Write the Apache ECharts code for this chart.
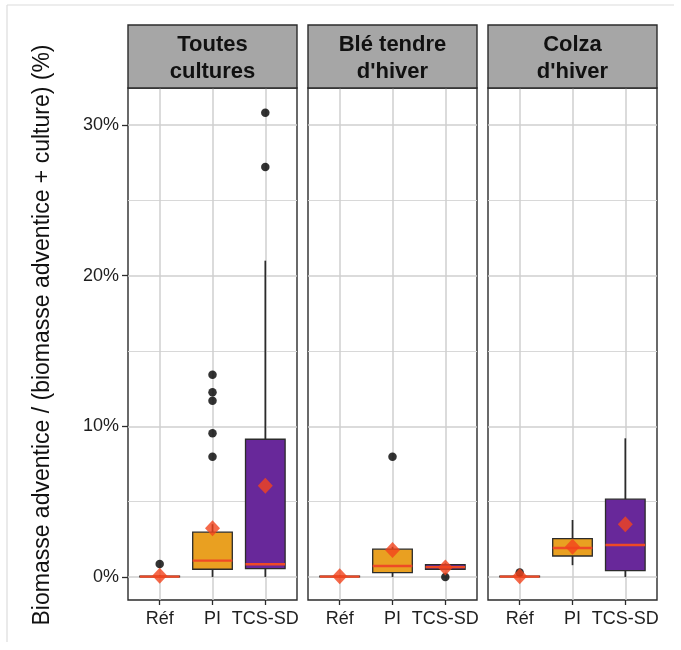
<!DOCTYPE html>
<html>
<head>
<meta charset="utf-8">
<script src="https://cdn.jsdelivr.net/npm/echarts@6/dist/echarts.min.js"></script>
<style>
  html, body { margin: 0; padding: 0; background: #ffffff; }
  #chart { width: 681px; height: 650px; }
</style>
</head>
<body>
<div id="chart"></div>
<script>
// Categories and facet titles
const categories = ['Réf', 'PI', 'TCS-SD'];
const panelTitles = ['Toutes\ncultures', 'Blé tendre\nd\'hiver', 'Colza\nd\'hiver'];
const yAxisTitle = 'Biomasse adventice / (biomasse adventice + culture) (%)';
const yTicks = [0, 10, 20, 30];
const yMinorTicks = [5, 15, 25];

// Box statistics (%): [lower whisker, Q1, median, Q3, upper whisker] per category
const boxToutes = [[0, 0, 0.02, 0.06, 0.12], [0, 0.51, 1.08, 2.97, 3.5], [0, 0.55, 0.84, 9.14, 20.99]];
const boxBle    = [[0, 0, 0.02, 0.06, 0.1], [0, 0.29, 0.73, 1.84, 2.0], [0.51, 0.51, 0.65, 0.82, 0.9]];
const boxColza  = [[0, 0, 0.02, 0.06, 0.1], [0.78, 1.39, 1.92, 2.54, 3.78], [0, 0.42, 2.12, 5.16, 9.2]];

// Means (%) per category
const meanToutes = [0.08, 3.23, 6.06];
const meanBle    = [0.05, 1.79, 0.62];
const meanColza  = [0.05, 2.01, 3.5];

// Outliers (%) per category
const outToutes = [[0.86], [13.42, 12.25, 11.7, 9.53, 7.98], [30.8, 27.2]];
const outBle    = [[], [7.98], [0]];
const outColza  = [[0.3], [], []];

const boxes = [boxToutes, boxBle, boxColza];
const means = [meanToutes, meanBle, meanColza];
const outliers = [outToutes, outBle, outColza];

// Styling
const fillColors = ['#E8442A', '#E9A021', '#68289A'];
const edgeColor = '#2b2b2b';
const medianColor = '#EE4A26';
const meanColor = '#F2441D';
const font = 'Liberation Sans, Arial, sans-serif';

// Panel layout (pixels)
const panelLeft = [128, 308, 488];
const panelWidth = 169;
const panelTop = 88;
const panelHeight = 512;
const stripTop = 25;
const stripHeight = 63;
const yMin = -1.53, yMax = 32.45;

const chart = echarts.init(document.getElementById('chart'), null, { renderer: 'canvas' });

const grids = [], xAxes = [], yAxes = [], series = [], graphics = [];

panelLeft.forEach((left, i) => {
  grids.push({
    left: left, top: panelTop, width: panelWidth, height: panelHeight,
    show: true, borderColor: edgeColor, borderWidth: 1.4, backgroundColor: 'transparent'
  });

  xAxes.push({
    type: 'value', gridIndex: i, min: 0.4, max: 3.6, position: 'bottom',
    axisLine: { show: false, onZero: false },
    axisTick: { show: true, customValues: [1, 2, 3], length: 5, lineStyle: { color: edgeColor, width: 1.3 } },
    axisLabel: {
      customValues: [1, 2, 3], formatter: v => categories[Math.round(v) - 1],
      fontSize: 18, color: '#1e1e1e', fontFamily: font, margin: 10
    },
    splitLine: { show: true, lineStyle: { color: '#cfcfcf', width: 1.5 } }
  });

  // major grid + labels
  yAxes.push({
    type: 'value', gridIndex: i, min: yMin, max: yMax, position: 'left',
    axisLine: { show: false, onZero: false },
    axisTick: { show: i === 0, customValues: yTicks, length: 6, lineStyle: { color: edgeColor, width: 1.3 } },
    axisLabel: {
      show: i === 0, customValues: yTicks, formatter: '{value}%',
      fontSize: 18, color: '#1e1e1e', fontFamily: font, margin: 9
    },
    splitLine: { show: true, lineStyle: { color: '#cfcfcf', width: 1.5 } }
  });
  // minor grid
  yAxes.push({
    type: 'value', gridIndex: i, min: yMin, max: yMax, position: 'left',
    axisLine: { show: false, onZero: false },
    axisTick: { show: false, customValues: yMinorTicks },
    axisLabel: { show: false, customValues: yMinorTicks },
    splitLine: { show: true, lineStyle: { color: '#d8d8d8', width: 1.1 } }
  });

  // boxes
  series.push({
    type: 'custom', xAxisIndex: i, yAxisIndex: 2 * i, z: 2,
    encode: { x: 0, y: [1, 2, 3, 4, 5] },
    data: boxes[i].map((s, c) => [c + 1].concat(s)),
    renderItem: (params, api) => {
      const x = api.value(0);
      const cIdx = Math.round(x) - 1;
      const pLo = api.coord([x, api.value(1)]);
      const pQ1 = api.coord([x, api.value(2)]);
      const pMed = api.coord([x, api.value(3)]);
      const pQ3 = api.coord([x, api.value(4)]);
      const pHi = api.coord([x, api.value(5)]);
      const half = api.size([0.75, 0])[0] / 2;
      const cx = pMed[0];
      const lineStyle = { stroke: edgeColor, lineWidth: 1.7 };
      return {
        type: 'group',
        children: [
          { type: 'line', shape: { x1: cx, y1: pQ3[1], x2: cx, y2: pHi[1] }, style: lineStyle },
          { type: 'line', shape: { x1: cx, y1: pQ1[1], x2: cx, y2: pLo[1] }, style: lineStyle },
          {
            type: 'rect',
            shape: { x: cx - half, y: pQ3[1], width: 2 * half, height: Math.max(pQ1[1] - pQ3[1], 0.5) },
            style: { fill: fillColors[cIdx], stroke: edgeColor, lineWidth: 1.3 }
          },
          { type: 'line', shape: { x1: cx - half, y1: pMed[1], x2: cx + half, y2: pMed[1] },
            style: { stroke: medianColor, lineWidth: 2.4 } }
        ]
      };
    }
  });

  // outliers
  const outData = [];
  outliers[i].forEach((vals, c) => vals.forEach(v => outData.push([c + 1, v])));
  series.push({
    type: 'scatter', xAxisIndex: i, yAxisIndex: 2 * i, z: 3,
    symbol: 'circle', symbolSize: 8.5,
    itemStyle: { color: '#000000' },
    data: outData
  });

  // means
  series.push({
    type: 'scatter', xAxisIndex: i, yAxisIndex: 2 * i, z: 4,
    symbol: 'diamond', symbolSize: [15, 16],
    itemStyle: { color: meanColor },
    data: means[i].map((m, c) => [c + 1, m])
  });

  // facet strip
  graphics.push({
    type: 'rect', z: 10,
    shape: { x: left, y: stripTop, width: panelWidth, height: stripHeight },
    style: { fill: '#A6A6A6', stroke: edgeColor, lineWidth: 1.4 }
  });
  graphics.push({
    type: 'text', z: 11,
    x: left + panelWidth / 2, y: stripTop + stripHeight / 2 + 2,
    style: {
      text: panelTitles[i], fill: '#111', fontSize: 22, fontWeight: 'bold', fontFamily: font,
      align: 'center', verticalAlign: 'middle', lineHeight: 27
    }
  });
});

// y axis title
graphics.push({
  type: 'text', z: 11, x: 43, y: 335, rotation: Math.PI / 2,
  style: {
    text: yAxisTitle, fill: '#111', fontSize: 23, fontFamily: font,
    align: 'center', verticalAlign: 'middle'
  }
});

// light frame around the figure
graphics.push({ type: 'line', z: 1, shape: { x1: 7, y1: 5, x2: 674, y2: 5 }, style: { stroke: '#dcdcdc', lineWidth: 1.2 } });
graphics.push({ type: 'line', z: 1, shape: { x1: 7, y1: 5, x2: 7, y2: 642 }, style: { stroke: '#dcdcdc', lineWidth: 1.2 } });

chart.setOption({
  animation: false,
  backgroundColor: '#ffffff',
  grid: grids,
  xAxis: xAxes,
  yAxis: yAxes,
  series: series,
  graphic: graphics
});
</script>
</body>
</html>
